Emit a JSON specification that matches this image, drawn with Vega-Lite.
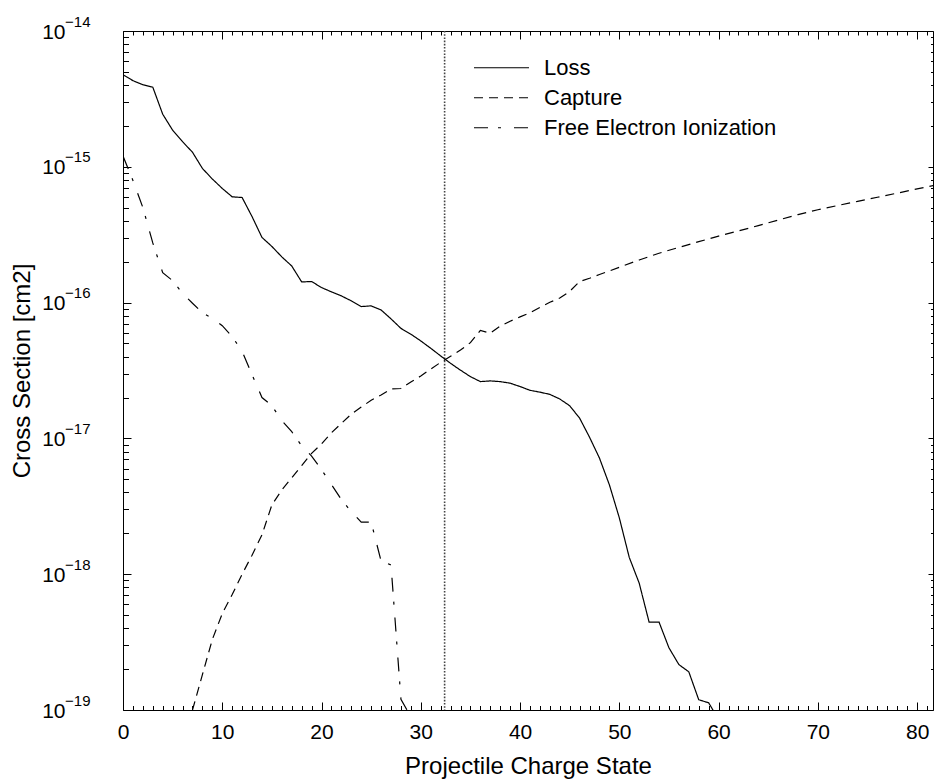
{
  "$schema": "https://vega.github.io/schema/vega-lite/v6.json",
  "width": 810,
  "height": 679,
  "autosize": "none",
  "padding": {"left": 123, "top": 31, "right": 1, "bottom": 69},
  "background": "white",
  "config": {
    "font": "Liberation Sans",
    "view": {"stroke": null},
    "axis": {"grid": false, "domainColor": "#000", "tickColor": "#000", "labelColor": "#000", "titleColor": "#000", "titleFontWeight": "normal", "domainWidth": 1, "tickWidth": 1},
    "legend": {"orient": "none", "legendX": 350, "legendY": 22, "title": null, "padding": 0, "symbolType": "stroke", "symbolSize": 3025, "symbolStrokeWidth": 1.2, "symbolStrokeColor": "#000", "labelFontSize": 22, "labelColor": "#000", "labelOffset": 14, "labelLimit": 400, "rowPadding": 0, "clipHeight": 29.5}
  },
  "datasets": {
    "sigma": [
      {"q": 0, "series": "Loss", "cs": 4.76e-15},
      {"q": 1, "series": "Loss", "cs": 4.31e-15},
      {"q": 2, "series": "Loss", "cs": 4.02e-15},
      {"q": 3, "series": "Loss", "cs": 3.86e-15},
      {"q": 4, "series": "Loss", "cs": 2.44e-15},
      {"q": 5, "series": "Loss", "cs": 1.86e-15},
      {"q": 6, "series": "Loss", "cs": 1.53e-15},
      {"q": 7, "series": "Loss", "cs": 1.28e-15},
      {"q": 8, "series": "Loss", "cs": 9.73e-16},
      {"q": 9, "series": "Loss", "cs": 8.13e-16},
      {"q": 10, "series": "Loss", "cs": 6.93e-16},
      {"q": 11, "series": "Loss", "cs": 6.01e-16},
      {"q": 12, "series": "Loss", "cs": 5.94e-16},
      {"q": 13, "series": "Loss", "cs": 4.3e-16},
      {"q": 14, "series": "Loss", "cs": 3.02e-16},
      {"q": 15, "series": "Loss", "cs": 2.59e-16},
      {"q": 16, "series": "Loss", "cs": 2.17e-16},
      {"q": 17, "series": "Loss", "cs": 1.86e-16},
      {"q": 18, "series": "Loss", "cs": 1.42e-16},
      {"q": 19, "series": "Loss", "cs": 1.43e-16},
      {"q": 20, "series": "Loss", "cs": 1.29e-16},
      {"q": 21, "series": "Loss", "cs": 1.2e-16},
      {"q": 22, "series": "Loss", "cs": 1.12e-16},
      {"q": 23, "series": "Loss", "cs": 1.03e-16},
      {"q": 24, "series": "Loss", "cs": 9.35e-17},
      {"q": 25, "series": "Loss", "cs": 9.46e-17},
      {"q": 26, "series": "Loss", "cs": 8.83e-17},
      {"q": 27, "series": "Loss", "cs": 7.59e-17},
      {"q": 28, "series": "Loss", "cs": 6.46e-17},
      {"q": 29, "series": "Loss", "cs": 5.85e-17},
      {"q": 30, "series": "Loss", "cs": 5.22e-17},
      {"q": 31, "series": "Loss", "cs": 4.61e-17},
      {"q": 32, "series": "Loss", "cs": 4.05e-17},
      {"q": 33, "series": "Loss", "cs": 3.57e-17},
      {"q": 34, "series": "Loss", "cs": 3.18e-17},
      {"q": 35, "series": "Loss", "cs": 2.85e-17},
      {"q": 36, "series": "Loss", "cs": 2.62e-17},
      {"q": 37, "series": "Loss", "cs": 2.65e-17},
      {"q": 38, "series": "Loss", "cs": 2.62e-17},
      {"q": 39, "series": "Loss", "cs": 2.55e-17},
      {"q": 40, "series": "Loss", "cs": 2.41e-17},
      {"q": 41, "series": "Loss", "cs": 2.26e-17},
      {"q": 42, "series": "Loss", "cs": 2.19e-17},
      {"q": 43, "series": "Loss", "cs": 2.11e-17},
      {"q": 44, "series": "Loss", "cs": 1.95e-17},
      {"q": 45, "series": "Loss", "cs": 1.74e-17},
      {"q": 46, "series": "Loss", "cs": 1.41e-17},
      {"q": 47, "series": "Loss", "cs": 1.02e-17},
      {"q": 48, "series": "Loss", "cs": 7.16e-18},
      {"q": 49, "series": "Loss", "cs": 4.55e-18},
      {"q": 50, "series": "Loss", "cs": 2.6e-18},
      {"q": 51, "series": "Loss", "cs": 1.33e-18},
      {"q": 52, "series": "Loss", "cs": 8.6e-19},
      {"q": 53, "series": "Loss", "cs": 4.44e-19},
      {"q": 54, "series": "Loss", "cs": 4.44e-19},
      {"q": 55, "series": "Loss", "cs": 2.87e-19},
      {"q": 56, "series": "Loss", "cs": 2.16e-19},
      {"q": 57, "series": "Loss", "cs": 1.91e-19},
      {"q": 58, "series": "Loss", "cs": 1.19e-19},
      {"q": 59, "series": "Loss", "cs": 1.13e-19},
      {"q": 60, "series": "Loss", "cs": 8.5e-20},
      {"q": 7, "series": "Capture", "cs": 1.0e-19},
      {"q": 8, "series": "Capture", "cs": 1.82e-19},
      {"q": 9, "series": "Capture", "cs": 3.31e-19},
      {"q": 10, "series": "Capture", "cs": 5.13e-19},
      {"q": 11, "series": "Capture", "cs": 7.08e-19},
      {"q": 12, "series": "Capture", "cs": 1.0e-18},
      {"q": 13, "series": "Capture", "cs": 1.38e-18},
      {"q": 14, "series": "Capture", "cs": 1.95e-18},
      {"q": 15, "series": "Capture", "cs": 3.24e-18},
      {"q": 16, "series": "Capture", "cs": 4.17e-18},
      {"q": 17, "series": "Capture", "cs": 5.13e-18},
      {"q": 18, "series": "Capture", "cs": 6.31e-18},
      {"q": 19, "series": "Capture", "cs": 7.76e-18},
      {"q": 20, "series": "Capture", "cs": 9.12e-18},
      {"q": 21, "series": "Capture", "cs": 1.1e-17},
      {"q": 22, "series": "Capture", "cs": 1.29e-17},
      {"q": 23, "series": "Capture", "cs": 1.51e-17},
      {"q": 24, "series": "Capture", "cs": 1.7e-17},
      {"q": 25, "series": "Capture", "cs": 1.91e-17},
      {"q": 26, "series": "Capture", "cs": 2.09e-17},
      {"q": 27, "series": "Capture", "cs": 2.31e-17},
      {"q": 28, "series": "Capture", "cs": 2.33e-17},
      {"q": 29, "series": "Capture", "cs": 2.6e-17},
      {"q": 30, "series": "Capture", "cs": 2.88e-17},
      {"q": 31, "series": "Capture", "cs": 3.24e-17},
      {"q": 32, "series": "Capture", "cs": 3.63e-17},
      {"q": 33, "series": "Capture", "cs": 4.03e-17},
      {"q": 34, "series": "Capture", "cs": 4.47e-17},
      {"q": 35, "series": "Capture", "cs": 5.07e-17},
      {"q": 36, "series": "Capture", "cs": 6.24e-17},
      {"q": 37, "series": "Capture", "cs": 5.96e-17},
      {"q": 38, "series": "Capture", "cs": 6.71e-17},
      {"q": 39, "series": "Capture", "cs": 7.29e-17},
      {"q": 40, "series": "Capture", "cs": 7.85e-17},
      {"q": 41, "series": "Capture", "cs": 8.41e-17},
      {"q": 42, "series": "Capture", "cs": 9.23e-17},
      {"q": 43, "series": "Capture", "cs": 1.005e-16},
      {"q": 44, "series": "Capture", "cs": 1.08e-16},
      {"q": 45, "series": "Capture", "cs": 1.21e-16},
      {"q": 46, "series": "Capture", "cs": 1.43e-16},
      {"q": 47, "series": "Capture", "cs": 1.51e-16},
      {"q": 48, "series": "Capture", "cs": 1.61e-16},
      {"q": 49, "series": "Capture", "cs": 1.71e-16},
      {"q": 50, "series": "Capture", "cs": 1.82e-16},
      {"q": 52, "series": "Capture", "cs": 2.06e-16},
      {"q": 54, "series": "Capture", "cs": 2.31e-16},
      {"q": 56, "series": "Capture", "cs": 2.55e-16},
      {"q": 58, "series": "Capture", "cs": 2.81e-16},
      {"q": 60, "series": "Capture", "cs": 3.09e-16},
      {"q": 62, "series": "Capture", "cs": 3.37e-16},
      {"q": 64, "series": "Capture", "cs": 3.69e-16},
      {"q": 66, "series": "Capture", "cs": 4.05e-16},
      {"q": 68, "series": "Capture", "cs": 4.45e-16},
      {"q": 70, "series": "Capture", "cs": 4.83e-16},
      {"q": 72, "series": "Capture", "cs": 5.19e-16},
      {"q": 74, "series": "Capture", "cs": 5.56e-16},
      {"q": 76, "series": "Capture", "cs": 5.97e-16},
      {"q": 78, "series": "Capture", "cs": 6.4e-16},
      {"q": 80, "series": "Capture", "cs": 6.87e-16},
      {"q": 82, "series": "Capture", "cs": 7.36e-16},
      {"q": 0, "series": "Free Electron Ionization", "cs": 1.2e-15},
      {"q": 1, "series": "Free Electron Ionization", "cs": 7.94e-16},
      {"q": 2, "series": "Free Electron Ionization", "cs": 5.01e-16},
      {"q": 3, "series": "Free Electron Ionization", "cs": 2.75e-16},
      {"q": 4, "series": "Free Electron Ionization", "cs": 1.66e-16},
      {"q": 5, "series": "Free Electron Ionization", "cs": 1.45e-16},
      {"q": 6, "series": "Free Electron Ionization", "cs": 1.17e-16},
      {"q": 7, "series": "Free Electron Ionization", "cs": 9.89e-17},
      {"q": 8, "series": "Free Electron Ionization", "cs": 8.41e-17},
      {"q": 9, "series": "Free Electron Ionization", "cs": 7.67e-17},
      {"q": 10, "series": "Free Electron Ionization", "cs": 6.76e-17},
      {"q": 11, "series": "Free Electron Ionization", "cs": 5.62e-17},
      {"q": 12, "series": "Free Electron Ionization", "cs": 4.37e-17},
      {"q": 13, "series": "Free Electron Ionization", "cs": 2.95e-17},
      {"q": 14, "series": "Free Electron Ionization", "cs": 2.0e-17},
      {"q": 15, "series": "Free Electron Ionization", "cs": 1.74e-17},
      {"q": 16, "series": "Free Electron Ionization", "cs": 1.35e-17},
      {"q": 17, "series": "Free Electron Ionization", "cs": 1.12e-17},
      {"q": 18, "series": "Free Electron Ionization", "cs": 8.81e-18},
      {"q": 19, "series": "Free Electron Ionization", "cs": 7.41e-18},
      {"q": 20, "series": "Free Electron Ionization", "cs": 5.89e-18},
      {"q": 21, "series": "Free Electron Ionization", "cs": 4.57e-18},
      {"q": 22, "series": "Free Electron Ionization", "cs": 3.55e-18},
      {"q": 23, "series": "Free Electron Ionization", "cs": 2.88e-18},
      {"q": 24, "series": "Free Electron Ionization", "cs": 2.42e-18},
      {"q": 25, "series": "Free Electron Ionization", "cs": 2.42e-18},
      {"q": 26, "series": "Free Electron Ionization", "cs": 1.25e-18},
      {"q": 27, "series": "Free Electron Ionization", "cs": 1.17e-18},
      {"q": 28, "series": "Free Electron Ionization", "cs": 1.2e-19},
      {"q": 29, "series": "Free Electron Ionization", "cs": 8.9e-20}
    ],
    "crossing": [
      {"q": 32.4}
    ]
  },
  "layer": [
    {
      "data": {"name": "crossing"},
      "mark": {"type": "rule", "color": "#444", "strokeWidth": 1.6, "strokeDash": [1.6, 1.6]},
      "encoding": {
        "x": {"field": "q", "type": "quantitative", "axis": null}
      }
    },
    {
      "data": {"name": "sigma"},
      "transform": [{"filter": "datum.series === 'Loss'"}],
      "mark": {"type": "line", "clip": true, "color": "#000", "strokeWidth": 1.2},
      "encoding": {
        "x": {
          "field": "q", "type": "quantitative",
          "scale": {"domain": [0, 81.6], "nice": false, "zero": false},
          "axis": {
            "orient": "bottom",
            "values": [0,1,2,3,4,5,6,7,8,9,10,11,12,13,14,15,16,17,18,19,20,21,22,23,24,25,26,27,28,29,30,31,32,33,34,35,36,37,38,39,40,41,42,43,44,45,46,47,48,49,50,51,52,53,54,55,56,57,58,59,60,61,62,63,64,65,66,67,68,69,70,71,72,73,74,75,76,77,78,79,80,81],
            "tickSize": {"condition": {"test": "datum.value % 10 === 0", "value": -8}, "value": -4.5},
            "labelExpr": "datum.value % 10 === 0 ? datum.label : ''",
            "labelOverlap": false,
            "labelFlush": false,
            "labelBaseline": "top",
            "labelPadding": 19,
            "labelFontSize": 21,
            "title": "Projectile Charge State",
            "titleFontSize": 24,
            "titlePadding": 9
          }
        },
        "y": {
          "field": "cs", "type": "quantitative",
          "scale": {"type": "log", "domain": [1e-19, 1e-14], "nice": false},
          "axis": {
            "orient": "left",
            "values": [1e-19,2e-19,3e-19,4e-19,5e-19,6e-19,7e-19,8e-19,9e-19,1e-18,2e-18,3e-18,4e-18,5e-18,6e-18,7e-18,8e-18,9e-18,1e-17,2e-17,3e-17,4e-17,5e-17,6e-17,7e-17,8e-17,9e-17,1e-16,2e-16,3e-16,4e-16,5e-16,6e-16,7e-16,8e-16,9e-16,1e-15,2e-15,3e-15,4e-15,5e-15,6e-15,7e-15,8e-15,9e-15,1e-14],
            "tickSize": {"condition": {"test": "abs(log(datum.value)/LN10 - round(log(datum.value)/LN10)) < 0.001", "value": -8}, "value": -5.5},
            "labelExpr": "abs(log(datum.value)/LN10 - round(log(datum.value)/LN10)) < 0.001 ? '10' : ''",
            "labelOverlap": false,
            "labelFlush": false,
            "labelBaseline": "middle",
            "labelPadding": 66,
            "labelFontSize": 21,
            "labelOffset": 1,
            "title": "Cross Section [cm2]",
            "titleFontSize": 24,
            "titlePadding": 7
          }
        },
        "strokeDash": {
          "field": "series", "type": "nominal",
          "scale": {"domain": ["Loss", "Capture", "Free Electron Ionization"], "range": [[1, 0], [9, 6], [14, 10, 3, 13]]}
        }
      }
    },
    {
      "data": {"name": "sigma"},
      "transform": [{"filter": "datum.series === 'Capture'"}],
      "mark": {"type": "line", "clip": true, "color": "#000", "strokeWidth": 1.2},
      "encoding": {
        "x": {"field": "q", "type": "quantitative", "axis": null},
        "y": {
          "field": "cs", "type": "quantitative",
          "axis": {
            "orient": "left",
            "values": [1e-19, 1e-18, 1e-17, 1e-16, 1e-15, 1e-14],
            "ticks": false,
            "domain": false,
            "labelExpr": "'\u2212' + round(-log(datum.value)/LN10)",
            "labelOverlap": false,
            "labelFlush": false,
            "labelBaseline": "middle",
            "labelPadding": 33,
            "labelFontSize": 15,
            "labelOffset": -10,
            "title": null
          }
        },
        "strokeDash": {
          "field": "series", "type": "nominal",
          "scale": {"domain": ["Loss", "Capture", "Free Electron Ionization"], "range": [[1, 0], [9, 6], [14, 10, 3, 13]]}
        }
      }
    },
    {
      "data": {"name": "sigma"},
      "transform": [{"filter": "datum.series === 'Free Electron Ionization'"}],
      "mark": {"type": "line", "clip": true, "color": "#000", "strokeWidth": 1.2},
      "encoding": {
        "x": {
          "field": "q", "type": "quantitative",
          "axis": {
            "orient": "top",
            "values": [0,1,2,3,4,5,6,7,8,9,10,11,12,13,14,15,16,17,18,19,20,21,22,23,24,25,26,27,28,29,30,31,32,33,34,35,36,37,38,39,40,41,42,43,44,45,46,47,48,49,50,51,52,53,54,55,56,57,58,59,60,61,62,63,64,65,66,67,68,69,70,71,72,73,74,75,76,77,78,79,80,81],
            "tickSize": {"condition": {"test": "datum.value % 10 === 0", "value": -8}, "value": -4},
            "labels": false,
            "title": null
          }
        },
        "y": {
          "field": "cs", "type": "quantitative",
          "axis": {
            "orient": "right",
            "values": [1e-19,2e-19,3e-19,4e-19,5e-19,6e-19,7e-19,8e-19,9e-19,1e-18,2e-18,3e-18,4e-18,5e-18,6e-18,7e-18,8e-18,9e-18,1e-17,2e-17,3e-17,4e-17,5e-17,6e-17,7e-17,8e-17,9e-17,1e-16,2e-16,3e-16,4e-16,5e-16,6e-16,7e-16,8e-16,9e-16,1e-15,2e-15,3e-15,4e-15,5e-15,6e-15,7e-15,8e-15,9e-15,1e-14],
            "tickSize": {"condition": {"test": "abs(log(datum.value)/LN10 - round(log(datum.value)/LN10)) < 0.001", "value": -5}, "value": -2.5},
            "labels": false,
            "title": null
          }
        },
        "strokeDash": {
          "field": "series", "type": "nominal",
          "scale": {"domain": ["Loss", "Capture", "Free Electron Ionization"], "range": [[1, 0], [9, 6], [14, 10, 3, 13]]}
        }
      }
    }
  ],
  "resolve": {"axis": {"x": "independent", "y": "independent"}}
}
